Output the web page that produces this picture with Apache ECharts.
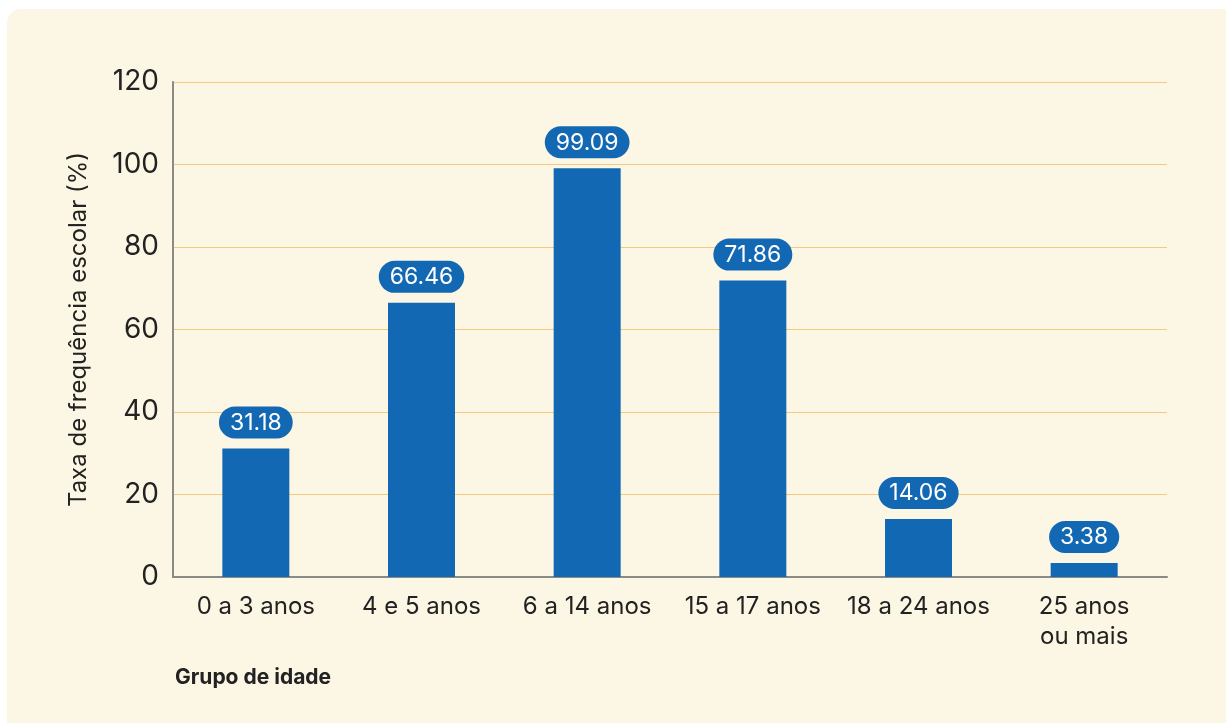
<!DOCTYPE html>
<html>
<head>
<meta charset="utf-8">
<script src="https://cdn.jsdelivr.net/npm/echarts@6/dist/echarts.min.js"></script>
<style>
html,body{margin:0;padding:0;background:#ffffff;width:1226px;height:723px;overflow:hidden;}
#panel{position:absolute;left:7px;top:9px;width:1240px;height:740px;background:#FCF6E4;border-radius:14px;}
#chart{position:absolute;left:0;top:0;width:1226px;height:723px;}
</style>
</head>
<body>
<div id="panel"></div>
<div id="chart"></div>
<script>
const categories = ['0 a 3 anos', '4 e 5 anos', '6 a 14 anos', '15 a 17 anos', '18 a 24 anos', '25 anos\nou mais'];
const values = [31.18, 66.46, 99.09, 71.86, 14.06, 3.38];
const yTicks = { min: 0, max: 120, interval: 20 };
const yName = 'Taxa de frequência escolar (%)';
const xName = 'Grupo de idade';

const FONT = 'Inter, "Noto Sans", sans-serif';
const chart = echarts.init(document.getElementById('chart'), null, { renderer: 'canvas' });
chart.setOption({
  backgroundColor: 'transparent',
  animation: false,
  textStyle: { fontFamily: FONT },
  grid: { left: 173, right: 59, top: 82, bottom: 146, containLabel: false },
  graphic: [{
    type: 'text', left: 175, top: 667,
    style: { text: xName, font: 'bold 21px ' + FONT, fill: '#222222' }
  }],
  xAxis: {
    type: 'category',
    data: categories,
    axisLine: { lineStyle: { color: '#8a8a86', width: 2 } },
    axisTick: { show: false },
    axisLabel: { interval: 0, color: '#222222', fontSize: 24, margin: 15, lineHeight: 30, fontFamily: FONT }
  },
  yAxis: {
    type: 'value',
    min: yTicks.min, max: yTicks.max, interval: yTicks.interval,
    name: yName, nameLocation: 'middle', nameGap: 82, nameRotate: 90,
    nameTextStyle: { color: '#222222', fontSize: 24, fontFamily: FONT },
    axisLine: { show: true, lineStyle: { color: '#8a8a86', width: 2 } },
    axisTick: { show: false },
    axisLabel: { color: '#222222', fontSize: 28, margin: 14, fontFamily: FONT },
    splitLine: { lineStyle: { color: '#F2CB7E', width: 1 } }
  },
  series: [{
    type: 'bar',
    data: values,
    barWidth: 67,
    itemStyle: { color: '#1268B3' },
    label: {
      show: true, position: 'top', distance: 10,
      formatter: p => p.value.toFixed(2),
      color: '#ffffff', fontSize: 23, fontFamily: FONT,
      backgroundColor: '#1268B3', borderRadius: 17,
      padding: [5, 11, 4, 11]
    }
  }]
});
</script>
</body>
</html>
